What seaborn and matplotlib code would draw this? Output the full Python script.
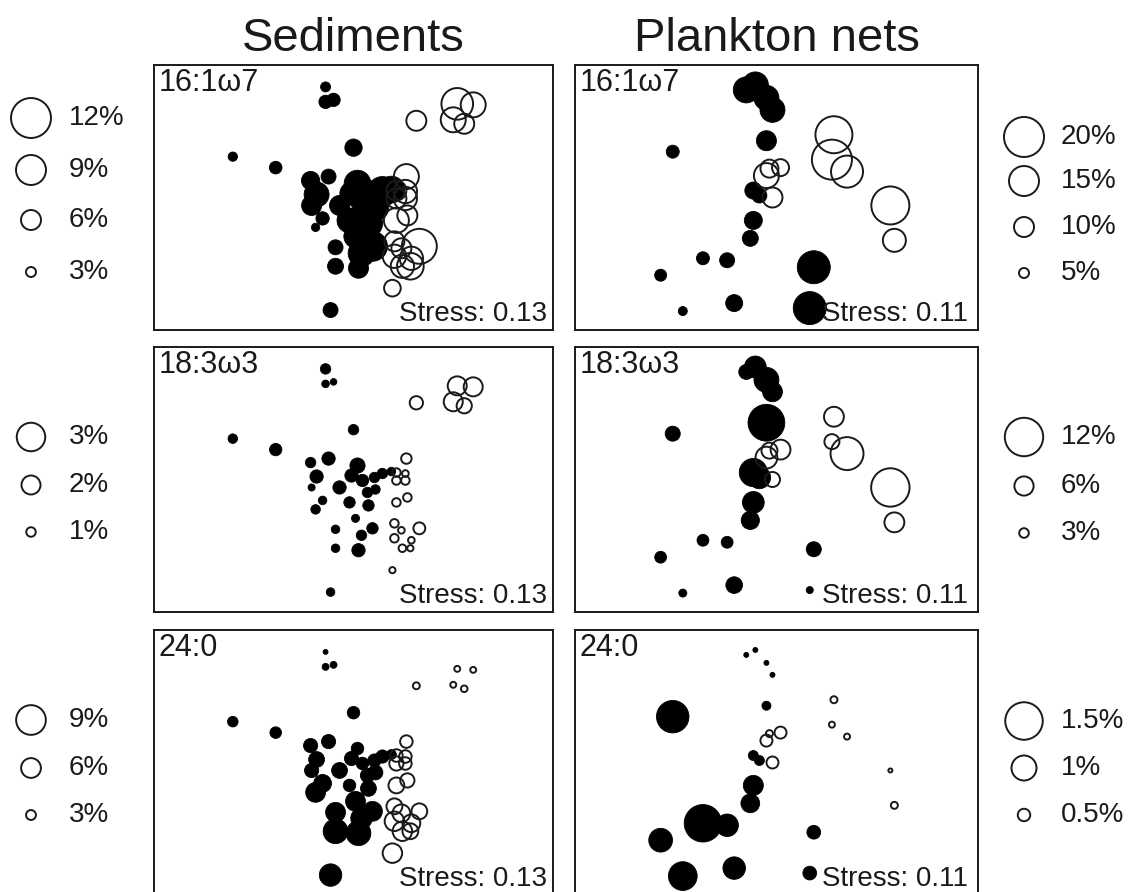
import numpy as np
import pandas as pd
import matplotlib
matplotlib.use("Agg")
import matplotlib.pyplot as plt
import seaborn as sns

sns.set_theme(style="white")
plt.rcParams["font.family"] = ["Liberation Sans", "DejaVu Sans"]

# ---------------------------------------------------------------------------
# NMDS site scores and fatty-acid proportions (%)
# ---------------------------------------------------------------------------
# Sediments: 30 sites of the first group (solid) followed by 20 of the second (open)
sed_x = [-0.28, -0.28, -0.20, 0.00, -1.21, -0.78, -0.23,
         -0.43, -0.25, -0.37, -0.42, -0.31, -0.38, -0.14, -0.04, 0.02, 0.15,
         0.14, 0.04, -0.02, 0.09, 0.21, 0.29, 0.38, -0.18, -0.18, 0.19, 0.08, 0.05,
         0.22,
         0.63, 1.04, 1.20, 1.00, 1.11,
         0.53, 0.43, 0.52, 0.43, 0.52, 0.54, 0.43, 0.41, 0.66, 0.41, 0.48, 0.58,
         0.49, 0.57, 0.39]
sed_y = [1.11, 0.96, 0.98, 0.50, 0.41, 0.30, -1.13,
         0.17, 0.21, 0.03, -0.08, -0.21, -0.30, -0.08, -0.23, -0.39, -0.26,
         -0.13, 0.14, 0.04, -0.01, 0.02, 0.06, 0.08, -0.50, -0.69, -0.49, -0.56, -0.71,
         -0.10,
         0.77, 0.94, 0.93, 0.78, 0.74,
         0.21, 0.07, 0.06, -0.01, -0.01, -0.18, -0.23, -0.44, -0.49, -0.59, -0.51,
         -0.61, -0.69, -0.69, -0.91]
sed_solid = [True] * 30 + [False] * 20
sed_16_1w7 = [3.0, 4.0, 4.0, 5.2, 2.8, 3.8, 4.5,
              5.5, 4.5, 7.5, 6.0, 4.0, 2.5, 6.0, 7.5, 7.0, 8.5,
              8.5, 8.0, 7.0, 8.0, 9.0, 9.0, 8.0, 4.5, 4.8, 9.0, 8.0, 6.0,
              8.0,
              6.0, 9.5, 7.5, 7.5, 6.0,
              7.5, 6.0, 7.0, 6.0, 7.0, 6.0, 7.5, 6.0, 10.5, 7.0, 6.0, 7.0,
              7.0, 8.0, 5.0]
sed_18_3w3 = [1.1, 0.8, 0.7, 1.1, 1.0, 1.3, 0.9,
              1.1, 1.4, 1.4, 0.75, 0.9, 1.0, 1.4, 1.2, 0.85, 1.2,
              1.1, 1.6, 1.4, 1.3, 1.1, 1.1, 0.9, 0.9, 0.9, 1.2, 1.1, 1.4,
              1.0,
              1.4, 2.0, 2.0, 2.0, 1.6,
              1.1, 0.9, 0.7, 0.9, 0.9, 0.9, 0.9, 0.9, 1.25, 0.9, 0.7, 0.7,
              0.8, 0.65, 0.65]
sed_24_0 = [1.5, 2.1, 2.1, 3.8, 3.2, 3.5, 6.8,
            4.3, 4.3, 4.8, 4.3, 5.4, 6.0, 4.8, 3.8, 6.0, 4.8,
            4.3, 3.8, 4.3, 3.8, 4.0, 4.0, 3.0, 6.0, 7.5, 6.0, 6.5, 7.5,
            4.5,
            2.1, 1.8, 1.8, 1.8, 2.0,
            3.8, 3.8, 3.8, 4.3, 3.8, 4.3, 4.8, 4.8, 4.8, 5.9, 5.4, 5.4,
            5.9, 4.8, 5.9]

# Plankton nets: 17 solid sites followed by 9 open ones
plk_x = [-0.30, -0.21, -0.10, -0.04, -0.10, -0.23, -0.17, -0.23, -0.26,
         -1.03, -1.15, -0.73, -0.49, -0.93, -0.42, 0.37, 0.33,
         0.57, 0.55, 0.70, 1.13, 1.17, -0.10, 0.04, -0.07, -0.04]
plk_y = [1.08, 1.13, 1.00, 0.88, 0.57, 0.07, 0.02, -0.23, -0.41,
         0.46, -0.78, -0.61, -0.63, -1.14, -1.06, -0.70, -1.11,
         0.63, 0.38, 0.26, -0.08, -0.43, 0.22, 0.30, 0.29, 0.00]
plk_solid = [True] * 17 + [False] * 9
plk_16_1w7 = [13, 13, 12.5, 12.5, 10, 8.5, 7.5, 9, 8,
              6.5, 6, 6.5, 7.5, 4.5, 8.5, 16.5, 16.5,
              18.5, 20, 16, 19, 11.5, 12.5, 8.5, 9, 10]
plk_18_3w3 = [4.7, 6.8, 7.8, 6.2, 11.5, 8.8, 7.0, 6.8, 5.7,
              4.7, 3.7, 3.7, 3.7, 2.5, 5.2, 4.7, 2.2,
              6.2, 4.7, 10.3, 12, 6.2, 6.8, 6.2, 5.0, 4.7]
plk_24_0 = [0.2, 0.2, 0.2, 0.2, 0.36, 0.4, 0.4, 0.8, 0.75,
            1.3, 0.95, 1.5, 0.9, 1.15, 0.9, 0.55, 0.55,
            0.28, 0.24, 0.24, 0.16, 0.28, 0.48, 0.48, 0.28, 0.48]

fatty_acids = ["16:1\u03c97", "18:3\u03c93", "24:0"]
column_titles = ["Sediments", "Plankton nets"]
sed_stress = "Stress: 0.13"
plk_stress = "Stress: 0.11"

sed_legend = [[12, 9, 6, 3], [3, 2, 1], [9, 6, 3]]
plk_legend = [[20, 15, 10, 5], [12, 6, 3], [1.5, 1, 0.5]]

# ---------------------------------------------------------------------------
# Layout (pixels)
# ---------------------------------------------------------------------------
W, H = 1128, 892
DPI = 100
PT = 72.0 / DPI
VREF = 25.0
INK = "#1a1a1a"

# bubble diameter in pixels per 1 % for each panel
sed_scale = [3.33, 9.5, 3.3]
plk_scale = [2.0, 3.2, 25.0]

col_left = [154, 575]
col_width = [399, 403]
row_top = [65, 347, 630]
row_h = 265

sed_leg_y = [[118, 170, 220, 272], [437, 485, 532], [720, 768, 815]]
plk_leg_y = [[137, 181, 227, 273], [437, 486, 533], [721, 768, 815]]

fig = plt.figure(figsize=(W / DPI, H / DPI), dpi=DPI)
fig.patch.set_facecolor("white")


def px_axes(left, top, width, height, **kw):
    return fig.add_axes([left / W, 1 - (top + height) / H, width / W, height / H], **kw)


def bubbles(ax, x, y, vals, px_per_pct, solid, zorder=3):
    df = pd.DataFrame({"x": x, "y": y, "v2": np.square(np.asarray(vals, float))})
    smax = (px_per_pct * VREF * PT) ** 2
    if solid:
        style = dict(color="black", edgecolor="black", linewidth=0.6)
    else:
        style = dict(facecolor="none", edgecolor=INK, linewidth=1.4)
    sns.scatterplot(data=df, x="x", y="y", size="v2", sizes=(0, smax),
                    size_norm=(0, VREF ** 2), legend=False, ax=ax,
                    zorder=zorder, **style)


# overlay in pixel units for headings and size keys
ov = px_axes(0, 0, W, H, zorder=0)
ov.set_xlim(0, W)
ov.set_ylim(H, 0)
ov.axis("off")

sed_values = [sed_16_1w7, sed_18_3w3, sed_24_0]
plk_values = [plk_16_1w7, plk_18_3w3, plk_24_0]
columns = [
    (sed_x, sed_y, sed_solid, sed_values, sed_scale, sed_stress, 0.985),
    (plk_x, plk_y, plk_solid, plk_values, plk_scale, plk_stress, 0.975),
]

for c, (xs, ys, solid, values, scales, stress, sx) in enumerate(columns):
    xs = np.asarray(xs)
    ys = np.asarray(ys)
    solid = np.asarray(solid)
    for r in range(3):
        ax = px_axes(col_left[c], row_top[r], col_width[c], row_h)
        vals = np.asarray(values[r], float)
        bubbles(ax, xs[solid], ys[solid], vals[solid], scales[r], True, zorder=3)
        bubbles(ax, xs[~solid], ys[~solid], vals[~solid], scales[r], False, zorder=4)
        ax.set_xlim(-2.0, 2.0)
        ax.set_ylim(-1.33, 1.33)
        ax.set_xticks([])
        ax.set_yticks([])
        ax.set_xlabel("")
        ax.set_ylabel("")
        for sp in ax.spines.values():
            sp.set_visible(True)
            sp.set_color(INK)
            sp.set_linewidth(1.4)
        ax.text(0.012, 0.99, fatty_acids[r], transform=ax.transAxes,
                ha="left", va="top", fontsize=22, color=INK, zorder=6)
        ax.text(sx, 0.034, stress, transform=ax.transAxes,
                ha="right", va="baseline", fontsize=20, color=INK, zorder=6)

    ov.text(col_left[c] + col_width[c] / 2, 51, column_titles[c],
            ha="center", va="baseline", fontsize=34, color=INK)

# size keys
for r in range(3):
    for legend_vals, ys, cx, tx, scale in (
        (sed_legend[r], sed_leg_y[r], 31, 69, sed_scale[r]),
        (plk_legend[r], plk_leg_y[r], 1024, 1061, plk_scale[r]),
    ):
        bubbles(ov, [cx] * len(legend_vals), ys, legend_vals, scale, False)
        for v, yy in zip(legend_vals, ys):
            ov.text(tx, yy, f"{v:g}%", ha="left", va="center",
                    fontsize=20, color=INK)

ov.set_xlim(0, W)
ov.set_ylim(H, 0)
ov.set_xlabel("")
ov.set_ylabel("")

fig.savefig("out.png", dpi=DPI, facecolor="white")
